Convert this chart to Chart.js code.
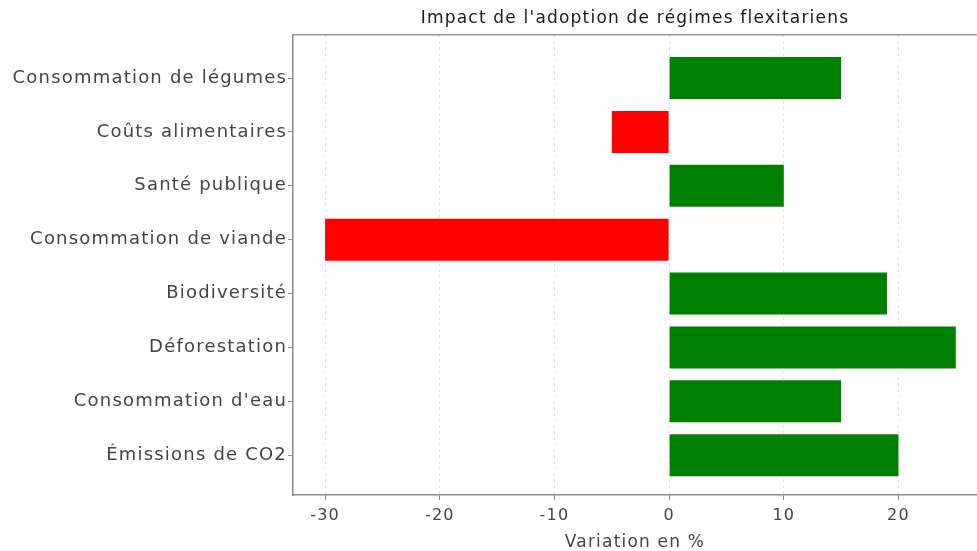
<!DOCTYPE html>
<html>
<head>
<meta charset="utf-8">
<script src="https://cdn.jsdelivr.net/npm/chart.js@4"></script>
<style>
html,body{margin:0;padding:0;background:#fff;}
canvas{display:block;}
</style>
</head>
<body>
<canvas id="c" width="977" height="551"></canvas>
<script>
const categories = [
  "Consommation de légumes",
  "Coûts alimentaires",
  "Santé publique",
  "Consommation de viande",
  "Biodiversité",
  "Déforestation",
  "Consommation d'eau",
  "Émissions de CO2"
];
const variations = [15, -5, 10, -30, 19, 25, 15, 20];
const xTickValues = [-30, -20, -10, 0, 10, 20];
const chartTitle = "Impact de l'adoption de régimes flexitariens";
const xAxisTitle = "Variation en %";

const FONT = "'DejaVu Sans', sans-serif";
const points = variations.map((v, i) => ({x: v, y: i}));
const colors = variations.map(v => v < 0 ? '#ff0000' : '#008000');

const spacing = {
  id: 'spacing',
  beforeUpdate: c => { c.ctx.letterSpacing = '1.2px'; },
  beforeLayout: c => { c.ctx.letterSpacing = '1.2px'; },
  beforeDraw: c => { c.ctx.letterSpacing = '1.2px'; }
};

new Chart(document.getElementById('c'), {
  type: 'bar',
  plugins: [spacing],
  data: {
    datasets: [{
      data: points,
      backgroundColor: colors,
      borderWidth: 0,
      barPercentage: 0.78,
      categoryPercentage: 1
    }]
  },
  options: {
    indexAxis: 'y',
    responsive: false,
    animation: false,
    layout: {padding: 0},
    plugins: {legend: {display: false}, tooltip: {enabled: false}, title: {display: false}},
    scales: {
      x: {
        type: 'linear',
        position: 'bottom',
        min: -32.8,
        max: 26.85,
        afterBuildTicks: s => { s.ticks = xTickValues.map(v => ({value: v})); },
        afterFit: s => { s.height = 56; },
        ticks: {font: {family: FONT, size: 16}, color: '#444', padding: 6},
        grid: {color: '#e4e4e4', tickColor: '#888', tickLength: 5, tickBorderDash: [], lineWidth: 1},
        border: {display: true, color: '#888', width: 1.5, dash: [3, 3]},
        title: {display: true, text: xAxisTitle, font: {family: FONT, size: 17, lineHeight: 1.0}, color: '#444', padding: {top: 0, bottom: 0}}
      },
      x2: {
        type: 'linear',
        position: 'top',
        min: -32.8,
        max: 26.85,
        afterFit: s => { s.height = 35; },
        ticks: {display: false},
        grid: {display: false},
        border: {display: true, color: '#999', width: 1.5},
        title: {display: true, text: chartTitle, font: {family: FONT, size: 17}, color: '#1a1a1a', padding: {top: 8, bottom: 0}}
      },
      y: {
        type: 'linear',
        reverse: true,
        offset: false,
        min: -0.8,
        max: 7.74,
        afterBuildTicks: s => { s.ticks = categories.map((c, i) => ({value: i})); },
        afterFit: s => { s.width = 293; },
        ticks: {font: {family: FONT, size: 18}, color: '#444', padding: 1, callback: v => categories[v]},
        grid: {offset: false, drawOnChartArea: false, drawTicks: true, tickLength: 5, tickColor: '#888'},
        border: {display: true, color: '#888', width: 1.5}
      }
    }
  }
});
</script>
</body>
</html>
